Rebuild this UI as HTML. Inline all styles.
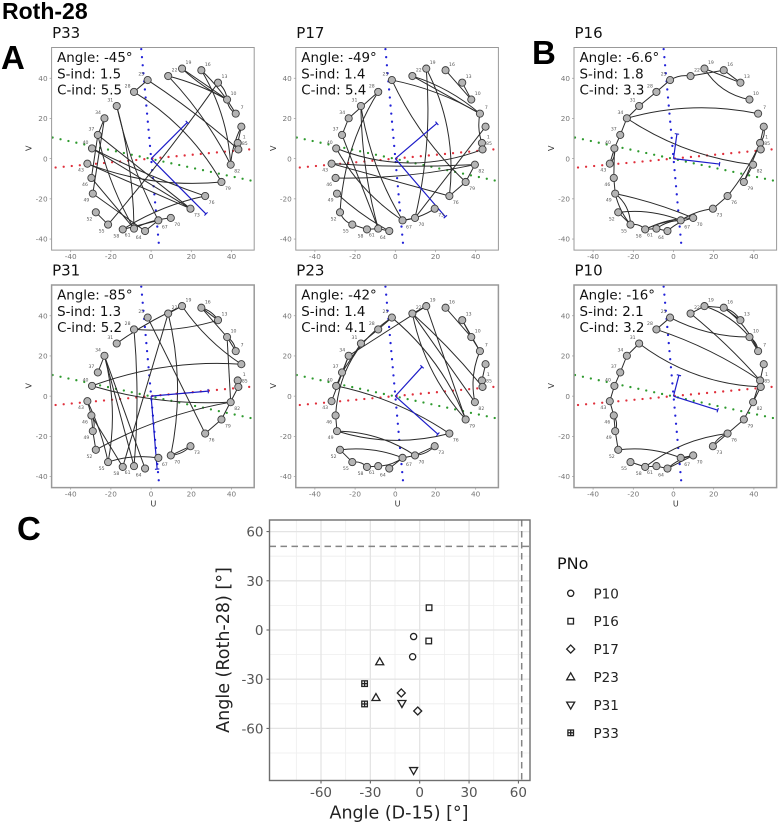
<!DOCTYPE html>
<html>
<head>
<meta charset="utf-8">
<title>Roth-28 montage chart</title>
<style>
html,body{margin:0;padding:0;background:#fff;}
svg{display:block;font-family:"DejaVu Sans","Liberation Sans",sans-serif;}
.h{font-family:"Liberation Sans",sans-serif;font-weight:bold;fill:#000;}
</style>
</head>
<body>
<svg id="fig" width="780" height="825" viewBox="0 0 780 825" xmlns="http://www.w3.org/2000/svg">
<text class="h" x="2" y="19" font-size="23">Roth-28</text>
<text class="h" x="1" y="69" font-size="33">A</text>
<text class="h" x="532" y="64" font-size="33">B</text>
<text class="h" x="17" y="540" font-size="33">C</text>
</svg>
<script>
// ---- electrode montage data ----
const channels=[1,4,7,10,13,16,19,22,25,28,31,34,37,40,43,46,49,52,55,58,61,64,67,70,73,76,79,82,85];
const channelU=[43.1,44.9,42.1,37.8,33.3,25,15.4,8.5,-1.7,-8.5,-17.1,-23.2,-26.5,-29.4,-31.7,-29.7,-29,-27.5,-21.4,-14.1,-8.5,-3,3.6,9.8,19.6,26.9,35,39.6,43.4];
const channelV=[7.8,15.9,22.4,29.4,37.8,44,44.8,41.1,39.1,33.2,26.2,20.1,11.8,5.1,-2.5,-9.6,-17.4,-26.7,-32.8,-35.2,-34.8,-36,-30.7,-29.5,-24.9,-18.6,-11.6,-3,4.6];
const hiddenLabels=[4];
const uTicks=[-40,-20,0,20,40];
const vTicks=[40,20,0,-20,-40];
const redAxis=[[-47.5,-4.4],[51,4.8]];
const greenAxis=[[-49,10.5],[51,-11.2]];
const blueAxis=[[-4.9,54.5],[4,-44]];
// links: [channelA, channelB, bulge]
const linksP33=[[25,28,0],[25,85,1],[28,79,4],[22,10,1],[22,82,2],[19,10,0],[19,10,-1],[16,7,1],[16,82,3],[13,55,1],[13,10,1],[10,7,-1],[4,82,-1],[4,1,0],[1,85,0],[34,49,0],[34,37,0],[37,73,0],[37,61,-2],[31,61,2],[31,67,-2],[40,73,0],[40,76,-1],[43,73,0],[43,79,-4],[46,61,0],[49,64,0],[52,55,0],[58,76,2],[58,67,0],[61,70,1],[64,67,0],[46,37,0]];
const linksP17=[[25,79,-3],[25,7,2],[22,7,2],[22,7,0],[19,76,5],[19,70,3],[16,10,0],[13,10,0],[7,1,-1],[4,70,0],[40,85,-7],[43,82,-1],[46,82,-2],[79,82,0],[28,52,-4],[31,67,-3],[31,61,-2],[34,37,0],[34,28,0],[37,61,0],[43,76,0],[49,64,-1],[52,55,-1],[55,58,0],[58,61,0],[61,64,0],[67,73,-1],[67,70,0],[40,67,-3],[76,79,0]];
const linksP16=[[22,25,-1],[22,16,0],[19,13,0],[16,13,0],[19,10,-3],[7,34,-4],[34,31,0],[31,28,0],[28,25,0],[34,37,0],[37,40,0],[40,43,0],[40,43,1],[46,40,0],[46,49,0],[34,82,-4],[4,1,0],[4,1,1],[1,85,0],[1,79,0],[1,76,1],[82,79,0],[76,73,0],[73,67,-1],[70,58,-1.5],[70,64,-1],[67,61,-1],[67,58,-1],[49,70,1],[49,55,2],[49,55,-1],[52,67,2],[52,55,0],[55,58,1],[58,61,0],[61,64,0]];
const linksP31=[[25,76,0],[22,19,0],[22,58,0],[22,70,4],[19,31,-1],[19,4,-2],[16,13,0],[16,13,1],[16,10,0],[10,7,0],[10,7,1],[10,82,0],[28,13,-2],[28,61,1.5],[40,4,4],[37,34,0],[34,61,0],[34,64,0],[40,82,-3],[43,46,0],[43,55,1],[46,49,0],[46,49,1],[46,58,0],[49,52,0],[52,82,3],[55,67,1.5],[55,34,-3],[70,73,0],[70,73,-1],[85,79,0],[79,76,0],[1,85,0]];
const linksP23=[[25,79,4],[28,25,0],[25,46,-7],[31,37,0],[31,28,0],[22,19,0],[19,34,0],[22,79,-4],[22,82,0],[22,85,1],[19,79,0],[16,10,0],[13,10,0],[13,7,0],[10,7,0],[7,82,-2],[1,4,0],[1,85,0],[34,43,0],[34,37,0],[37,40,0],[40,76,3],[46,49,0],[49,76,-4],[49,70,3],[52,67,2],[52,55,0],[55,58,1],[58,61,0],[61,67,-1],[64,67,0],[67,70,0],[70,73,0],[70,73,-1]];
const linksP10=[[22,19,0],[22,1,1],[19,16,0],[19,10,2],[16,13,0],[16,13,1],[16,7,2],[25,28,0],[25,10,-2.5],[28,1,2],[10,7,0],[10,7,1],[31,85,-5],[31,34,0],[34,37,0],[37,40,0],[40,43,0],[43,46,0],[46,49,0],[46,49,1],[49,52,0],[52,67,2],[85,82,0],[4,1,0],[1,82,0],[82,79,0],[79,76,0],[76,73,0],[76,73,-1],[76,58,-3],[55,58,0],[58,61,0],[61,64,0],[64,70,0],[64,70,1],[67,70,0]];
// panel summaries
const panelNames=["P33","P17","P16","P31","P23","P10"];
const panelAngles=["-45","-49","-6.6","-85","-42","-16"];
const panelSInd=["1.5","1.4","1.8","1.3","1.4","2.1"];
const panelCInd=["5.5","5.4","3.3","5.2","4.1","3.2"];
const panelLinks=[linksP33,linksP17,linksP16,linksP31,linksP23,linksP10];
const vectorA=[[18,18],[20.7,17.6],[1.7,12.3],[28.4,2.5],[13.3,14.6],[2.7,10.4]];
const vectorB=[[27.3,-27.5],[24.9,-28.9],[22.9,-2.7],[3,-36.3],[21.2,-18.9],[22,-7]];
// ---- scatter data ----
const pnoLevels=["P10","P16","P17","P23","P31","P33"];
const d15Angles=[[-3.7,-4.3],[5.7,5.5],[-11.2,-1.2],[-24.3,-26.6],[-10.8,-3.7],[-33.5,-33.5]];
const rothAngles=[[-4,-16.3],[13.6,-6.7],[-38.4,-49.4],[-19.5,-41.3],[-44.7,-85.6],[-32.7,-45.1]];
const scatterTicks=[-60,-30,0,30,60];
const scatterMinorTicks=[-75,-45,-15,15,45];
const limitX=[62];
const limitY=[51];

const svg=document.getElementById('fig');
const NS='http://www.w3.org/2000/svg';
function mk(parent,tag,attrs,txt){
  const el=document.createElementNS(NS,tag);
  for(const k in attrs)el.setAttribute(k,attrs[k]);
  if(txt!==undefined)el.textContent=txt;
  parent.appendChild(el);
  return el;
}
const frames=[[51.6,47.5,254.2],[295.8,47.5,498.4],[574,47.5,776.6],[51.6,285,254.2],[295.8,285,498.4],[574,285,776.6]];
const SCALE=2.01, UMIN=-49.5, VMAX=55.3, VSPAN=100.8;

panelNames.forEach(function(name,pi){
  const x0=frames[pi][0], y0=frames[pi][1], x1=frames[pi][2], y1=y0+VSPAN*SCALE;
  const sx=function(u){return x0+(u-UMIN)*SCALE;};
  const sy=function(v){return y0+(VMAX-v)*SCALE;};
  const g=mk(svg,'g',{});
  
  
  const cp=mk(g,'clipPath',{id:'clip'+pi});
  mk(cp,'rect',{x:x0,y:y0,width:x1-x0,height:y1-y0});
  const title=mk(g,'text',{x:x0+0.5,y:y0-9.5,'font-size':15,fill:'#111'},name);
  
  

  const plot=mk(g,'g',{'clip-path':'url(#clip'+pi+')'});
  // dotted reference axes
  const axes=[[redAxis,'#e0303c','red-axis-line'],[greenAxis,'#2e9a2e','green-axis-line'],[blueAxis,'#2222d8','blue-axis-line']];
  axes.forEach(function(a){
    const ln=mk(plot,'line',{x1:sx(a[0][0][0]),y1:sy(a[0][0][1]),x2:sx(a[0][1][0]),y2:sy(a[0][1][1]),stroke:a[1],'stroke-width':2.3,'stroke-linecap':'round','stroke-dasharray':'0 8.1'});
    
    
  });
  // connections
  panelLinks[pi].forEach(function(lk){
    const ia=channels.indexOf(lk[0]), ib=channels.indexOf(lk[1]);
    const ua=channelU[ia],va=channelV[ia],ub=channelU[ib],vb=channelV[ib];
    const du=ub-ua,dv=vb-va,len=Math.hypot(du,dv)||1;
    const cu=(ua+ub)/2-dv/len*lk[2]*2, cv=(va+vb)/2+du/len*lk[2]*2;
    const p=mk(plot,'path',{d:'M'+sx(ua)+' '+sy(va)+' Q'+sx(cu)+' '+sy(cv)+' '+sx(ub)+' '+sy(vb),fill:'none',stroke:'#2a2a2a','stroke-width':1});
    
    
  });
  // vectors
  [vectorA[pi],vectorB[pi]].forEach(function(vec){
    const ln=mk(plot,'line',{x1:sx(0),y1:sy(0),x2:sx(vec[0]),y2:sy(vec[1]),stroke:'#1c1cc8','stroke-width':1.2});
    
    
    const l=Math.hypot(vec[0],vec[1])||1, nu=-vec[1]/l*1.1, nv=vec[0]/l*1.1;
    const cap=mk(plot,'line',{x1:sx(vec[0]+nu),y1:sy(vec[1]+nv),x2:sx(vec[0]-nu),y2:sy(vec[1]-nv),stroke:'#1c1cc8','stroke-width':1.1});
    
    
  });
  // electrodes
  channels.forEach(function(ch,i){
    const c=mk(plot,'circle',{cx:sx(channelU[i]),cy:sy(channelV[i]),r:3.6,fill:'#b4b4b4',stroke:'#3c3c3c','stroke-width':0.9});
    
    
    if(hiddenLabels.indexOf(ch)<0){
      const lx=channelU[i]+(channelU[i]>=0?3.2:-3.2), ly=channelV[i]+(channelV[i]>=0?3:-3.2);
      const t=mk(plot,'text',{x:sx(lx),y:sy(ly)+1.6,'font-size':4.6,fill:'#555','text-anchor':'middle'},String(ch));
      
      
    }
  });
  // frame
  const fr=mk(g,'rect',{x:x0,y:y0,width:x1-x0,height:y1-y0,fill:'none',stroke:'#999','stroke-width':pi>2?1.5:1});
  
  
  // ticks
  uTicks.forEach(function(t){
    const tk=mk(g,'line',{x1:sx(t),x2:sx(t),y1:y1,y2:y1+2,stroke:'#999','stroke-width':0.7});
    
    
    const lb=mk(g,'text',{x:sx(t),y:y1+9,'font-size':7.3,fill:'#777','text-anchor':'middle'},String(t));
    
    
  });
  vTicks.forEach(function(t){
    const tk=mk(g,'line',{x1:x0-2,x2:x0,y1:sy(t),y2:sy(t),stroke:'#999','stroke-width':0.7});
    
    
    const lb=mk(g,'text',{x:x0-4,y:sy(t)+2.6,'font-size':7.3,fill:'#777','text-anchor':'end'},String(t));
    
    
  });
  // axis titles
  const vy=(y0+y1)/2-0.5;
  const vl=mk(g,'text',{x:x0-20,y:vy,'font-size':8,fill:'#333','text-anchor':'middle',transform:'rotate(-90 '+(x0-20)+' '+vy+')'},'V');
  
  
  if(pi>2){
    const ul=mk(g,'text',{x:(x0+x1)/2+0.5,y:y1+19,'font-size':8,fill:'#333','text-anchor':'middle'},'U');
    
    
  }
  // annotation
  const lines=['Angle: '+panelAngles[pi]+'°','S-ind: '+panelSInd[pi],'C-ind: '+panelCInd[pi]];
  lines.forEach(function(s,li){
    const t=mk(g,'text',{x:x0+5.5,y:y0+14.5+li*16.3,'font-size':13.4,fill:'#111'},s);
    
    
  });
});

// ---- scatter plot ----
(function(){
  const left=269.5,right=530,top=520,bottom=780.5;
  const X=function(d){return 419.7+d*1.645;};
  const Y=function(d){return 630-d*1.64;};
  const g=mk(svg,'g',{});
  
  
  scatterMinorTicks.forEach(function(t){
    const a=mk(g,'line',{x1:X(t),x2:X(t),y1:top,y2:bottom,stroke:'#eeeeee','stroke-width':0.8});
    
    
    const b=mk(g,'line',{y1:Y(t),y2:Y(t),x1:left,x2:right,stroke:'#eeeeee','stroke-width':0.8});
    
    
  });
  scatterTicks.forEach(function(t){
    const a=mk(g,'line',{x1:X(t),x2:X(t),y1:top,y2:bottom,stroke:'#e4e4e4','stroke-width':1.3});
    
    
    const b=mk(g,'line',{y1:Y(t),y2:Y(t),x1:left,x2:right,stroke:'#e4e4e4','stroke-width':1.3});
    
    
    const tx=mk(g,'line',{x1:X(t),x2:X(t),y1:bottom,y2:bottom+3,stroke:'#555','stroke-width':1});
    
    
    const ty=mk(g,'line',{y1:Y(t),y2:Y(t),x1:left-3,x2:left,stroke:'#555','stroke-width':1});
    
    
    const lx=mk(g,'text',{x:X(t),y:bottom+16.5,'font-size':13.5,fill:'#555','text-anchor':'middle'},String(t));
    
    
    const ly=mk(g,'text',{x:left-6,y:Y(t)+5,'font-size':13.5,fill:'#555','text-anchor':'end'},String(t));
    
    
  });
  const hl=mk(g,'line',{x1:left,x2:right,y1:Y(limitY[0]),y2:Y(limitY[0]),stroke:'#858585','stroke-width':1.5,'stroke-dasharray':'6.5 4.5'});
  
  
  const vl=mk(g,'line',{x1:X(limitX[0]),x2:X(limitX[0]),y1:top,y2:bottom,stroke:'#858585','stroke-width':1.5,'stroke-dasharray':'6.5 4.5'});
  
  

  function marker(par,kind,cx,cy){
    const st={fill:'none',stroke:'#222','stroke-width':1.3};
    const put=function(tag,a){return mk(par,tag,Object.assign({},st,a));};
    if(kind===0)return put('circle',{cx:cx,cy:cy,r:3.1});
    if(kind===1)return put('rect',{x:cx-2.8,y:cy-2.8,width:5.6,height:5.6});
    if(kind===2)return put('path',{d:'M'+cx+' '+(cy-4)+'L'+(cx+4)+' '+cy+'L'+cx+' '+(cy+4)+'L'+(cx-4)+' '+cy+'Z'});
    if(kind===3)return put('path',{d:'M'+cx+' '+(cy-4.2)+'L'+(cx+4)+' '+(cy+2.8)+'L'+(cx-4)+' '+(cy+2.8)+'Z'});
    if(kind===4)return put('path',{d:'M'+cx+' '+(cy+4.2)+'L'+(cx+4)+' '+(cy-2.8)+'L'+(cx-4)+' '+(cy-2.8)+'Z'});
    put('rect',{x:cx-2.8,y:cy-2.8,width:5.6,height:5.6});
    put('line',{x1:cx,x2:cx,y1:cy-2.8,y2:cy+2.8});
    return put('line',{x1:cx-2.8,x2:cx+2.8,y1:cy,y2:cy});
  }
  pnoLevels.forEach(function(p,i){
    const sg=mk(g,'g',{});
    
    
    d15Angles[i].forEach(function(d,j){
      marker(sg,i,X(d),Y(rothAngles[i][j]));
    });
  });
  const fr=mk(g,'rect',{x:left,y:top,width:right-left,height:bottom-top,fill:'none',stroke:'#6e6e6e','stroke-width':1.4});
  
  
  const xt=mk(g,'text',{x:399,y:818.5,'font-size':17.5,fill:'#222','text-anchor':'middle'},'Angle (D-15) [°]');
  
  
  const yt=mk(g,'text',{x:229,y:650,'font-size':17.5,fill:'#222','text-anchor':'middle',transform:'rotate(-90 229 650)'},'Angle (Roth-28) [°]');
  
  
  // legend
  const lg=mk(svg,'g',{});
  
  
  const lt=mk(lg,'text',{x:557,y:569,'font-size':16,fill:'#111'},'PNo');
  
  
  pnoLevels.forEach(function(p,i){
    const cy=593.3+i*27.9;
    const e=mk(lg,'g',{});
    
    
    marker(e,i,570.7,cy);
    const t=mk(e,'text',{x:593.5,y:cy+5,'font-size':13.5,fill:'#222'},p);
    
    
  });
})();
</script>
</body>
</html>
